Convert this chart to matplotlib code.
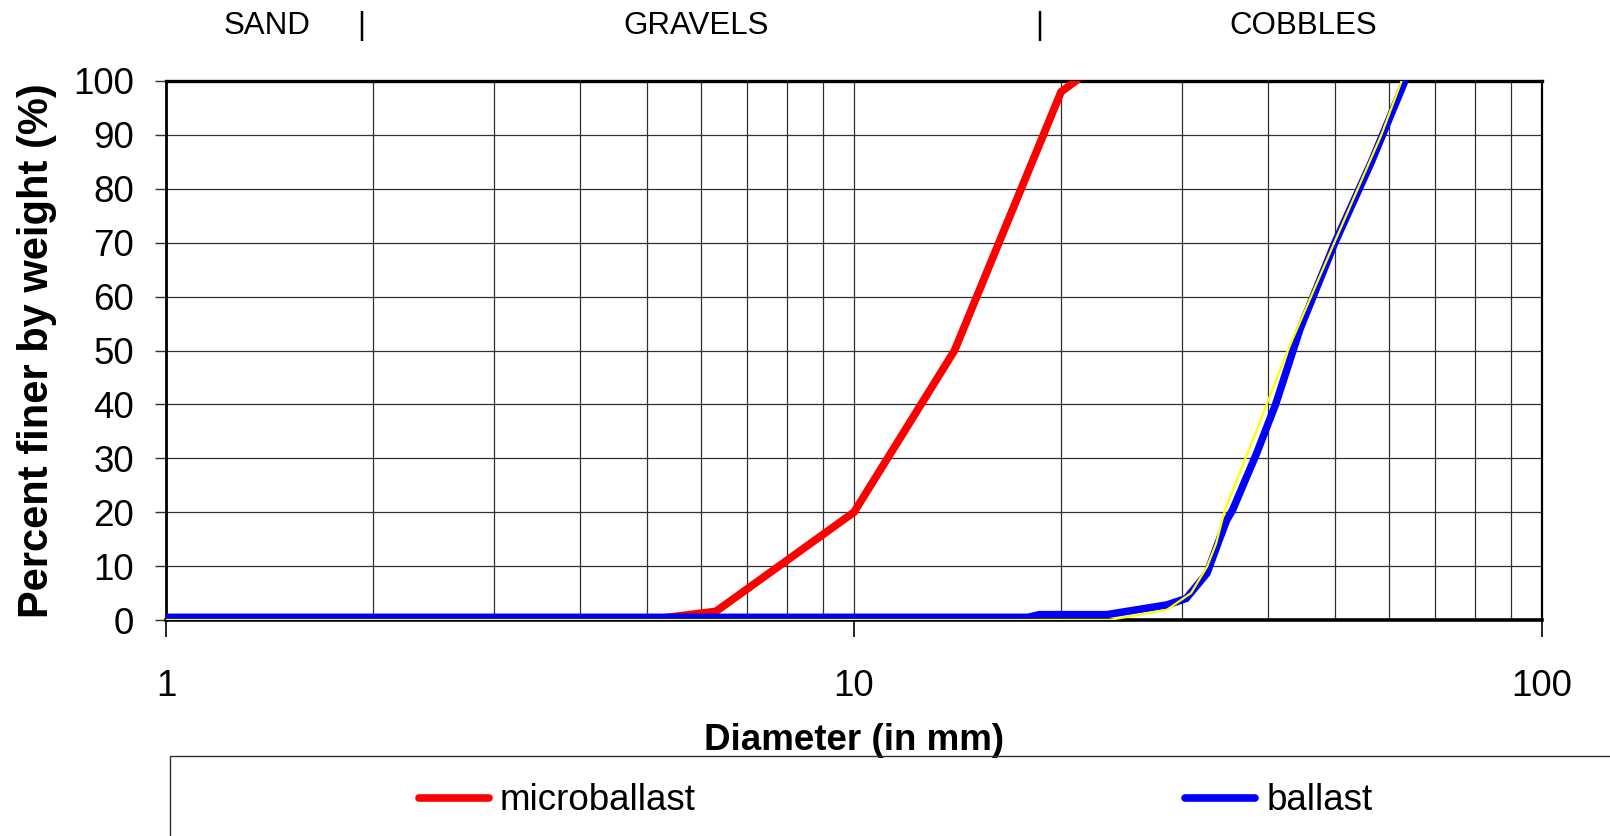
import matplotlib
matplotlib.use("Agg")
import matplotlib.pyplot as plt
from matplotlib.lines import Line2D
from matplotlib.patches import Rectangle
from matplotlib.ticker import FixedLocator, NullFormatter

plt.rcParams["font.family"] = ["Liberation Sans", "DejaVu Sans"]

# Grain size distribution data: diameter (mm) vs percent finer by weight
micro_d = [5.0, 6.3, 10.0, 14.0, 20.0, 21.0]
micro_p = [0.0, 1.6, 20.0, 50.0, 98.0, 100.0]

ballast_d = [1.0, 17.9, 18.6, 23.3, 28.5, 30.4, 32.6, 33.8, 34.8, 35.5,
             38.5, 41.0, 44.5, 50.0, 56.5, 63.2]
ballast_p = [0.5, 0.5, 1.0, 1.0, 2.8, 4.0, 8.7, 14.2, 18.5, 20.4,
             31.0, 40.0, 54.0, 70.0, 85.0, 100.0]

spec_d = [1.0, 23.5, 28.5, 30.9, 32.6, 33.6, 34.6, 38.5, 42.7, 49.9, 58.4, 62.5]
spec_p = [0.0, 0.0, 1.9, 5.0, 9.9, 14.2, 20.4, 35.3, 50.0, 70.0, 90.0, 100.0]

y_ticks = list(range(0, 101, 10))
x_major = [1, 10, 100]
x_labels = ["1", "10", "100"]
x_minor = [2, 3, 4, 5, 6, 7, 8, 9, 20, 30, 40, 50, 60, 70, 80, 90]

soil_classes = ["SAND", "|", "GRAVELS", "|", "COBBLES"]

W, H = 1610, 836
fig = plt.figure(figsize=(W / 100, H / 100), dpi=100)
ax = fig.add_axes([166 / W, 1 - 620 / H, (1542 - 166) / W, (620 - 81) / H])

ax.set_xscale("log")
ax.set_xlim(1, 100)
ax.set_ylim(0, 100)

ax.plot(micro_d, micro_p, color="#ff0000", lw=5.6, solid_joinstyle="miter",
        label="microballast", zorder=3)
ax.plot(ballast_d, ballast_p, color="#0000ff", lw=5.4, solid_joinstyle="miter",
        label="ballast", zorder=4)
ax.plot(spec_d, spec_p, color="#ffff00", lw=1.6, zorder=5)

# Grid
ax.xaxis.set_major_locator(FixedLocator(x_major))
ax.xaxis.set_minor_locator(FixedLocator(x_minor))
ax.xaxis.set_minor_formatter(NullFormatter())
ax.set_xticklabels(x_labels)
ax.set_yticks(y_ticks)
ax.grid(True, which="both", color="#303030", lw=0.9)
ax.set_axisbelow(True)

ax.tick_params(axis="x", which="major", direction="out", length=12, width=1.2,
               labelsize=26.5, pad=23, color="black")
ax.tick_params(axis="x", which="minor", length=0)
ax.tick_params(axis="y", direction="out", length=8, width=1.0,
               labelsize=26.5, pad=15, color="#303030")

for side, lw in (("bottom", 2.6), ("top", 2.4), ("left", 2.0), ("right", 1.6)):
    ax.spines[side].set_linewidth(lw)
    ax.spines[side].set_color("black")

ax.set_xlabel("Diameter (in mm)", fontsize=26.5, fontweight="bold", labelpad=14)
ax.set_ylabel("Percent finer by weight (%)", fontsize=30, fontweight="bold",
              labelpad=12)

# Soil class headings above the plot
class_x = [267, 361, 696, 1039, 1303]
for txt, px in zip(soil_classes, class_x):
    fig.text(px / W, 1 - 26 / H, txt, ha="center", va="center", fontsize=22.5)

# Legend with an open box along the bottom
fig.add_artist(Rectangle((170 / W, -0.1), 1.0, 0.1 + (1 - 756 / H),
                         transform=fig.transFigure, fill=False,
                         edgecolor="#303030", lw=1.0, clip_on=False))
handles = [Line2D([], [], color="#ff0000", lw=5.5, solid_capstyle="round"),
           Line2D([], [], color="#0000ff", lw=5.5, solid_capstyle="round")]
fig.legend(handles, ["microballast", "ballast"], loc="center left",
           bbox_to_anchor=(419 / W, 1 - 801 / H), ncol=2, frameon=False,
           fontsize=26.5, handlelength=1.9, handletextpad=0.3,
           columnspacing=13.3, borderpad=0, borderaxespad=0)

fig.savefig("out.png", dpi=100)
